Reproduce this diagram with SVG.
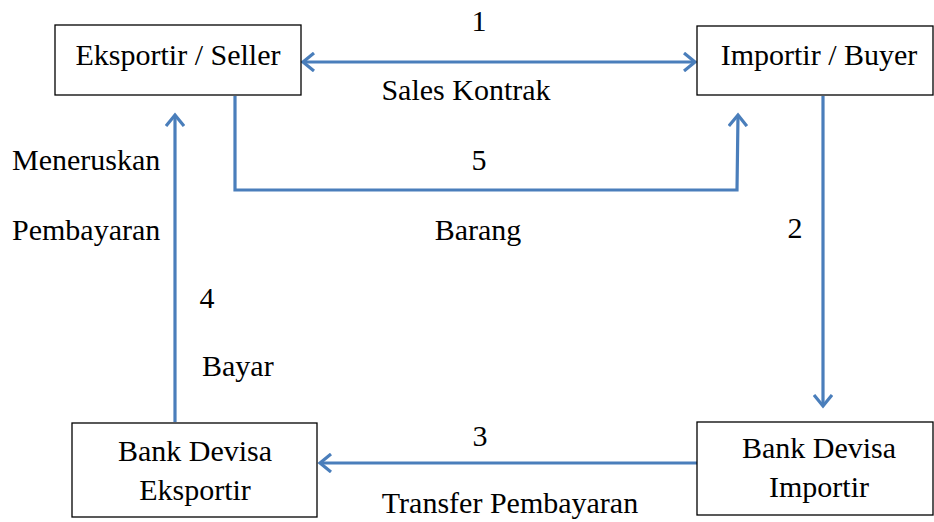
<svg xmlns="http://www.w3.org/2000/svg" width="934" height="522" viewBox="0 0 934 522">
<style>
.box{fill:#fff;stroke:#000;stroke-width:1.3}
.c{text-anchor:middle}
.ln{fill:none;stroke:#4a7ebb;stroke-width:3.2;stroke-linejoin:miter}
</style>
<defs>
<marker id="ah" markerWidth="16" markerHeight="20" refX="12" refY="10" orient="auto-start-reverse" markerUnits="userSpaceOnUse">
<polyline points="1,1 12,10 1,19" fill="none" stroke="#4a7ebb" stroke-width="3.2"/>
</marker>
</defs>
<rect width="934" height="522" fill="#fff"/>
<g id="connectors">
<line class="ln" x1="303" y1="62" x2="695" y2="62" marker-start="url(#ah)" marker-end="url(#ah)"/>
<polyline class="ln" points="235,96 235,190 737,190 738,115" marker-end="url(#ah)"/>
<line class="ln" x1="823" y1="96" x2="823" y2="406" marker-end="url(#ah)"/>
<line class="ln" x1="697" y1="463" x2="320" y2="463" marker-end="url(#ah)"/>
<line class="ln" x1="175" y1="422" x2="175" y2="115" marker-end="url(#ah)"/>
</g>
<g id="labels" font-family="Liberation Serif, Times New Roman, serif" font-size="30" fill="#000">
<text class="c" x="479" y="31">1</text>
<text class="c" x="466" y="100">Sales Kontrak</text>
<text class="c" x="479" y="170">5</text>
<text class="c" x="478" y="240">Barang</text>
<text class="c" x="795" y="238">2</text>
<text x="12" y="170">Meneruskan</text>
<text x="12" y="240">Pembayaran</text>
<text class="c" x="207" y="308">4</text>
<text x="202" y="376">Bayar</text>
<text class="c" x="480" y="446">3</text>
<text class="c" x="510" y="513">Transfer Pembayaran</text>
</g>
<g id="eksportir" font-family="Liberation Serif, Times New Roman, serif" font-size="30" fill="#000">
<rect class="box" x="55" y="25" width="246" height="70"/>
<text class="c" x="178" y="65">Eksportir / Seller</text>
</g>
<g id="importir" font-family="Liberation Serif, Times New Roman, serif" font-size="30" fill="#000">
<rect class="box" x="697" y="26" width="236" height="69"/>
<text class="c" x="819" y="65">Importir / Buyer</text>
</g>
<g id="bank-eksportir" font-family="Liberation Serif, Times New Roman, serif" font-size="30" fill="#000">
<rect class="box" x="72" y="423" width="245" height="94"/>
<text class="c" x="195" y="461">Bank Devisa</text>
<text class="c" x="195" y="500">Eksportir</text>
</g>
<g id="bank-importir" font-family="Liberation Serif, Times New Roman, serif" font-size="30" fill="#000">
<rect class="box" x="697" y="422" width="236" height="93"/>
<text class="c" x="819" y="458">Bank Devisa</text>
<text class="c" x="819" y="497">Importir</text>
</g>
</svg>
